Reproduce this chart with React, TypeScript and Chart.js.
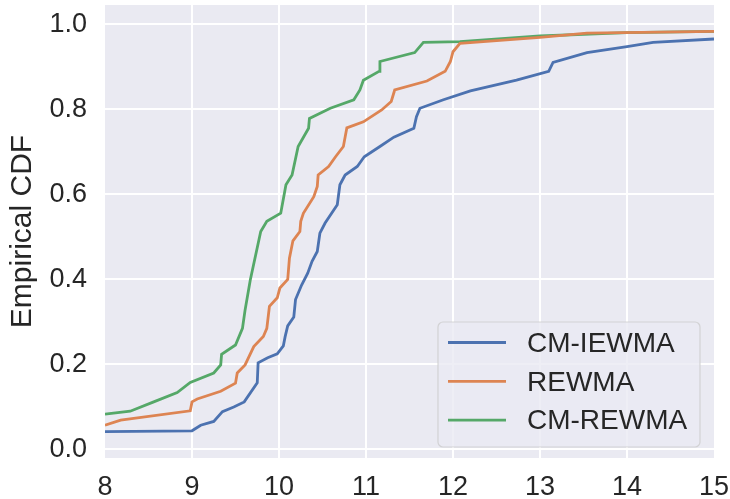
import React, { useEffect, useRef } from "react";
import { Chart, registerables } from "chart.js";

Chart.register(...registerables);

// Empirical CDF samples for each method (x = run length, y = cumulative share)
const iewmaX = [8.0, 9.0, 9.1, 9.25, 9.35, 9.48, 9.6, 9.75, 9.76, 9.87, 9.98, 10.05, 10.07, 10.1, 10.17, 10.19, 10.26, 10.33, 10.38, 10.44, 10.47, 10.53, 10.67, 10.7, 10.76, 10.9, 10.98, 11.16, 11.32, 11.55, 11.58, 11.62, 11.89, 12.2, 12.73, 13.1, 13.15, 13.54, 14.0, 14.3, 15.0];
const iewmaY = [0.041, 0.043, 0.056, 0.065, 0.088, 0.099, 0.111, 0.156, 0.203, 0.215, 0.224, 0.243, 0.264, 0.29, 0.311, 0.352, 0.386, 0.414, 0.442, 0.465, 0.508, 0.532, 0.575, 0.622, 0.645, 0.665, 0.688, 0.712, 0.734, 0.755, 0.782, 0.802, 0.822, 0.843, 0.868, 0.889, 0.91, 0.933, 0.947, 0.957, 0.965];

const rewmaX = [8.0, 8.18, 8.98, 9.0, 9.06, 9.33, 9.5, 9.52, 9.61, 9.71, 9.82, 9.86, 9.89, 9.98, 10.01, 10.1, 10.12, 10.16, 10.24, 10.25, 10.28, 10.4, 10.44, 10.45, 10.57, 10.65, 10.74, 10.78, 10.97, 11.18, 11.29, 11.33, 11.7, 11.91, 11.97, 12.0, 12.08, 13.0, 13.54, 15.0];
const rewmaY = [0.056, 0.068, 0.09, 0.111, 0.118, 0.136, 0.155, 0.179, 0.198, 0.241, 0.265, 0.284, 0.336, 0.356, 0.379, 0.399, 0.449, 0.49, 0.512, 0.536, 0.555, 0.594, 0.618, 0.645, 0.665, 0.688, 0.712, 0.756, 0.77, 0.798, 0.818, 0.845, 0.866, 0.889, 0.912, 0.935, 0.955, 0.969, 0.979, 0.983];

const cmRewmaX = [8.0, 8.29, 8.56, 8.83, 8.98, 9.25, 9.33, 9.34, 9.5, 9.58, 9.61, 9.67, 9.79, 9.86, 10.02, 10.08, 10.15, 10.22, 10.34, 10.35, 10.59, 10.86, 10.93, 10.97, 11.15, 11.16, 11.56, 11.66, 12.08, 13.0, 14.0, 15.0];
const cmRewmaY = [0.082, 0.089, 0.111, 0.133, 0.157, 0.179, 0.198, 0.223, 0.245, 0.284, 0.327, 0.398, 0.512, 0.536, 0.555, 0.622, 0.645, 0.712, 0.755, 0.778, 0.802, 0.822, 0.845, 0.868, 0.889, 0.912, 0.933, 0.957, 0.959, 0.972, 0.98, 0.983];

const seriesLabels = ["CM-IEWMA", "REWMA", "CM-REWMA"];
const seriesColors = ["#4C72B0", "#DD8452", "#55A868"];
const yTickValues = [0, 0.2, 0.4, 0.6, 0.8, 1.0];
const xTickValues = [8, 9, 10, 11, 12, 13, 14, 15];

const FONT = "'Liberation Sans', Arial, sans-serif";
const TEXT = "#262626";
const PANEL = "#EAEAF2";

const toPoints = (xs: number[], ys: number[]) => xs.map((x, i) => ({ x, y: ys[i] }));

// Shaded panel behind the plot area
const panelPlugin = {
  id: "panel",
  beforeDraw(chart: any) {
    const { ctx, chartArea: a } = chart;
    ctx.save();
    ctx.fillStyle = PANEL;
    ctx.fillRect(a.left, a.top, a.right - a.left, a.bottom - a.top);
    ctx.restore();
  },
};

// Framed legend in the lower-right corner of the plot
const legendBoxPlugin = {
  id: "legendBox",
  afterDraw(chart: any) {
    const { ctx, chartArea: a } = chart;
    const boxW = 262;
    const boxH = 125;
    const right = a.right - 14;
    const bottom = a.bottom - 11;
    const left = right - boxW;
    const top = bottom - boxH;
    ctx.save();
    ctx.beginPath();
    ctx.roundRect(left, top, boxW, boxH, 5);
    ctx.fillStyle = "rgba(234,234,242,0.8)";
    ctx.fill();
    ctx.lineWidth = 1.2;
    ctx.strokeStyle = "rgba(204,204,204,0.8)";
    ctx.stroke();

    ctx.font = `28px ${FONT}`;
    ctx.fillStyle = TEXT;
    ctx.textAlign = "left";
    ctx.textBaseline = "middle";
    chart.data.datasets.forEach((ds: any, i: number) => {
      const y = top + 20.5 + i * 38.8;
      ctx.beginPath();
      ctx.moveTo(left + 10, y);
      ctx.lineTo(left + 68, y);
      ctx.strokeStyle = ds.borderColor;
      ctx.lineWidth = 2.8;
      ctx.stroke();
      ctx.fillText(ds.label, left + 89, y + 1.5);
    });
    ctx.restore();
  },
};

export default function App() {
  const canvasRef = useRef<HTMLCanvasElement | null>(null);

  useEffect(() => {
    const canvas = canvasRef.current;
    if (!canvas) return;
    const series = [
      toPoints(iewmaX, iewmaY),
      toPoints(rewmaX, rewmaY),
      toPoints(cmRewmaX, cmRewmaY),
    ];
    const chart = new Chart(canvas, {
      type: "line",
      data: {
        datasets: series.map((pts, i) => ({
          label: seriesLabels[i],
          data: pts,
          borderColor: seriesColors[i],
          backgroundColor: seriesColors[i],
          borderWidth: 2.8,
          pointRadius: 0,
          tension: 0,
          fill: false,
        })),
      },
      options: {
        responsive: false,
        animation: false,
        events: [],
        layout: { padding: { top: 5, right: 16, left: 0, bottom: 0 } },
        plugins: {
          legend: { display: false },
          tooltip: { enabled: false },
          title: { display: false },
        },
        scales: {
          x: {
            type: "linear",
            min: 8,
            max: 15,
            afterBuildTicks: (scale: any) => {
              scale.ticks = xTickValues.map((v) => ({ value: v }));
            },
            afterFit: (scale: any) => {
              scale.height = 41;
              scale.paddingLeft = 0;
              scale.paddingRight = 0;
            },
            border: { display: false },
            grid: {
              drawTicks: false,
              lineWidth: 2,
              color: (c: any) =>
                c.tick && (c.tick.value === 8 || c.tick.value === 15) ? "rgba(0,0,0,0)" : "#FFFFFF",
            },
            ticks: {
              padding: 13,
              color: TEXT,
              maxRotation: 0,
              font: { family: FONT, size: 27 },
              callback: (v: any) => String(v),
            },
          },
          y: {
            type: "linear",
            min: -0.021,
            max: 1.045,
            afterBuildTicks: (scale: any) => {
              scale.ticks = yTickValues.map((v) => ({ value: v }));
            },
            afterFit: (scale: any) => {
              scale.width = 105;
              scale.paddingTop = 0;
              scale.paddingBottom = 0;
            },
            border: { display: false },
            grid: { drawTicks: false, lineWidth: 2, color: "#FFFFFF" },
            ticks: {
              padding: 18,
              color: TEXT,
              font: { family: FONT, size: 27 },
              callback: (v: any) => Number(v).toFixed(1),
            },
            title: {
              display: true,
              text: "Empirical CDF",
              color: TEXT,
              padding: { top: 5, bottom: 0 },
              font: { family: FONT, size: 30 },
            },
          },
        },
      },
      plugins: [panelPlugin, legendBoxPlugin],
    });
    return () => chart.destroy();
  }, []);

  return (
    <div style={{ position: "absolute", left: 0, top: 0, width: 730, height: 499 }}>
      <canvas ref={canvasRef} width={730} height={499} style={{ display: "block" }} />
    </div>
  );
}
